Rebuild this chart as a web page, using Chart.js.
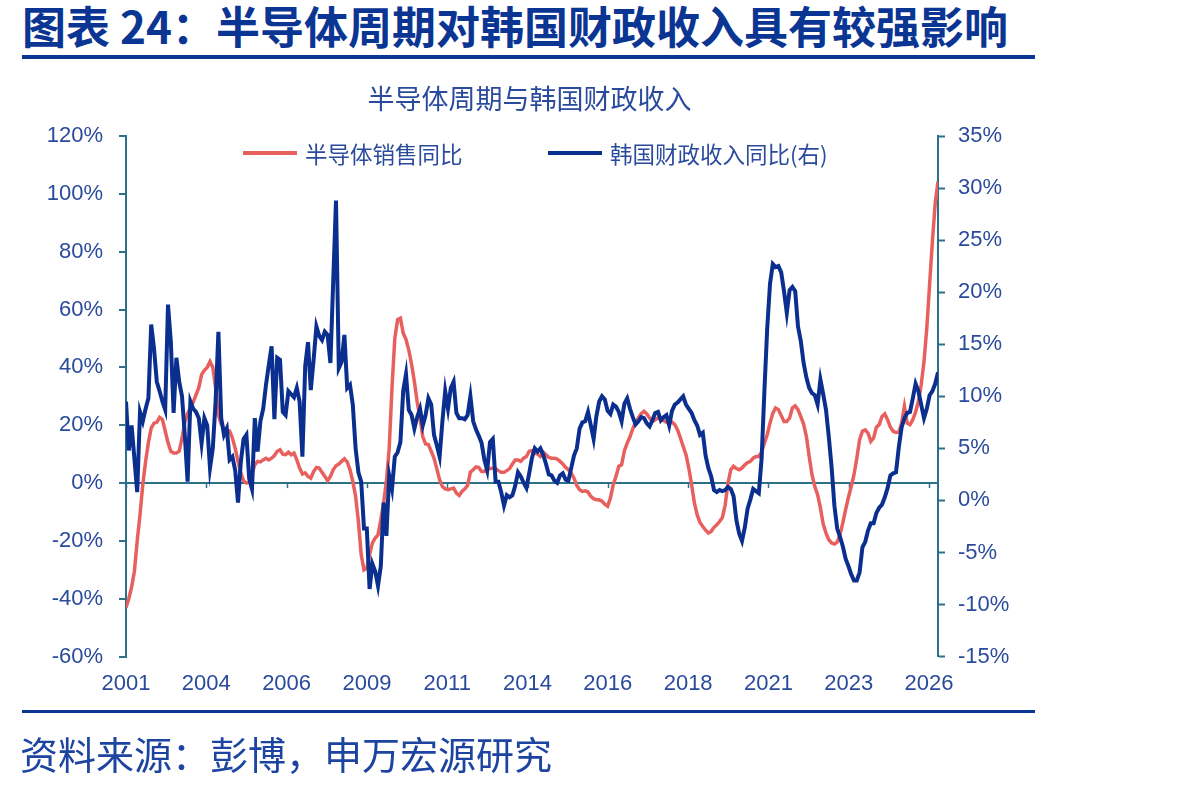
<!DOCTYPE html>
<html>
<head>
<meta charset="utf-8">
<script src="https://cdn.jsdelivr.net/npm/chart.js@4.4.1/dist/chart.umd.min.js"></script>
<style>
html,body{margin:0;padding:0;background:#ffffff;}
body{width:1190px;height:787px;position:relative;overflow:hidden;font-family:"Noto Sans CJK SC","Noto Sans",sans-serif;}
#hdr{position:absolute;left:22px;top:3px;font-size:44px;line-height:44px;font-weight:700;color:#0b3593;white-space:nowrap;}
.rule{position:absolute;left:22px;width:1013px;height:4px;background:#0b3593;}
#src{position:absolute;left:20px;top:734px;font-size:38px;line-height:38px;color:#1c44a0;white-space:nowrap;}
#chartBox{position:absolute;left:0;top:0;width:1190px;height:787px;}
#legend{position:absolute;left:0;top:0;width:1190px;height:0;}
.lg-item{position:absolute;top:141px;height:24px;display:flex;align-items:center;font-size:22.5px;line-height:24px;color:#2a4a9b;white-space:nowrap;}
.lg-sw{display:inline-block;width:54px;height:4px;margin-right:8px;}
</style>
</head>
<body>
<div id="hdr">图表 24：半导体周期对韩国财政收入具有较强影响</div>
<div class="rule" style="top:55px"></div>
<div id="chartBox"><canvas id="c" width="1190" height="787"></canvas></div>
<div id="legend"></div>
<div class="rule" style="top:710px;height:3px"></div>
<div id="src">资料来源：彭博，申万宏源研究</div>
<script>
// ---- data (monthly, from 2001-10) ----
const startYear = 2001, startMonth = 10, pointCount = 291;
const months = [];
for (let i = 0; i < pointCount; i++) {
  const m = startMonth - 1 + i;
  months.push((startYear + Math.floor(m / 12)) + '-' + String(m % 12 + 1).padStart(2, '0'));
}
const xTickLabels = ['2001','2004','2006','2009','2011','2014','2016','2018','2021','2023','2026'];
const xTickStep = 28.68; // months between labelled ticks

const seriesNames = ['半导体销售同比', '韩国财政收入同比(右)'];
const chartTitle = '半导体周期与韩国财政收入';

// 半导体销售同比 (%), left axis
const semiYoY = [
-43,-40,-36,-30.5,-20,-11,-0.5,7.5,14,19,
20.7,21,22.7,22,18,14,11,10.4,10.4,11,
15.5,21,24,26,28,30.5,33,37.5,39,40,
42,40,33,23.6,20.4,19,18,18,15.6,12,
7.5,3.5,0.8,0,0.3,3,6.3,7.5,7.3,8,
8.6,8,8.6,9.5,11,11.5,10,9.8,10.7,9.8,
10.4,8,5.2,3.1,3.5,2.3,1.7,4,5.4,5.2,
3.7,2.3,0.8,2.3,4.6,6,6.6,7.5,8.4,7.3,
4.6,0.6,-4.6,-13.3,-24.8,-30,-29.4,-24.8,-20.7,-19,
-17.9,-12.7,-6.9,0.6,12,32.9,50,56.5,57,51.9,
49.6,46,41,35,28,22.5,16,13.5,13.3,11,
8.6,5,1.2,-1.2,-2,-2.3,-2,-1.7,-3.5,-4.3,
-2.9,-2,-0.8,3.8,4.6,5.6,5.4,4,4,5.2,
5,5.2,5,4.3,3.7,3.7,4.3,5,6.6,8,
8,7.5,8.6,9.2,11,11.2,10.6,10,9.2,10.7,
9.8,8.9,8.6,8.6,8.3,7.5,6.6,5.4,4.6,3.5,
1.7,-0.8,-2.3,-2.9,-2.7,-3.1,-4.6,-5.4,-5.8,-5.8,
-6.3,-7.3,-8,-5.2,-0.6,2.3,5.8,6.3,11.2,13.8,
16,18.8,21,22.5,24,24.8,23.9,22.5,21.3,21.9,
22.5,22.1,21.6,21.1,20.7,21.1,20.2,18.4,15.6,12.7,
9.8,5.2,-0.6,-6.9,-11,-13.6,-15,-16.3,-17.3,-16.7,
-15.3,-14.4,-13.3,-11.9,-7.5,0,4.6,5.8,5,4.6,
5.2,6.3,7.1,7.5,8.6,9.2,9.2,10.7,13.8,16.7,
20.7,24.2,26,25.4,23.4,21.3,21.3,22.5,26,26.7,
25.4,23,20.4,16.1,9.2,2.9,-1.2,-4,-8.6,-14.2,
-17.3,-19.6,-20.7,-21.1,-20.4,-17.9,-13.8,-9.2,-5,-1.2,
2.9,8.6,15,17.9,18.4,17.3,14.4,15.6,19.3,20.2,
23,23.9,21.9,19.3,17.9,17.5,17.6,20.7,26.5,20.7,
20.2,21.9,24.6,28.2,34,42,53.6,68.6,83.6,96.8,
104.3
];

// 韩国财政收入同比 (%), right axis
const krRevenueYoY = [
9.5,4.8,7.2,4.0,0.8,8.5,7.6,8.8,9.8,16.9,
14.6,11.4,10.5,9.5,8.7,18.8,15.3,8.4,13.7,11.4,
10,6.3,1.8,9.5,8.8,8.5,7.9,5.5,7.9,7.2,
3.1,5,9.5,16.2,7.9,6.3,6.9,3.9,4.2,2.9,
-0.2,3.7,5.9,6.3,2.1,1.1,7.9,4.7,7.6,8.8,
11.1,13,14.8,7.8,13.7,13.5,8.5,8.2,10.5,10.2,
9.9,10.8,9.5,4.2,12.9,15.2,10.6,13.5,16.7,15.8,
15.4,16.2,15.9,13.2,21,28.8,12.7,13.3,15.9,10.8,
11.1,9.2,5,2.7,1.8,-2.7,-2.7,-8.5,-6.1,-6.8,
-8.2,-6.3,-0.2,-3.4,2.4,1.1,4.2,4.6,5.6,10.5,
12.1,8.7,8.2,6.9,8,8.8,7.2,8.2,9.8,9.2,
6.3,5.3,4.2,7.6,10.5,8.8,10.8,11.4,8.4,7.9,
7.9,7.8,8.2,10,7.6,6.8,6.2,5.5,3.9,2.9,
5.6,5.9,1.8,1.8,0.8,-0.5,0.5,0.3,0.5,1.4,
2.7,2.3,1.7,1.2,2.6,4.1,5,4.7,5,4.4,
3.5,2.5,2.4,1.9,1.7,2.4,2.6,2,1.9,3.1,
4.3,5,6.9,7.5,7.6,8.5,7.2,5.9,8.1,9.5,
10,9.7,8.6,8.3,9.2,9,8.5,7.6,9.3,9.8,
8.8,8,7.3,7.6,8,7.9,7.4,7.1,7.7,8.4,
8.5,7.7,8,8.2,7.2,8.6,9.2,9.4,9.7,10,
9.2,8.8,8.4,7.7,7.2,6.3,6.5,4.3,3.1,2.3,
1,0.8,1,0.9,1,1.3,1.1,0.4,-1.9,-3.2,
-3.9,-2.6,-0.8,0.1,1.1,0.9,0.7,4,10.5,16.5,
20.8,22.7,22.4,22.5,21.9,20.1,18,20.2,20.5,20.1,
16.7,15.3,13.2,11.8,10.8,10.3,10.1,9.2,11.6,10.2,
8.7,6.1,3.2,-0.5,-2.7,-3.5,-4.4,-5.6,-6.3,-7.1,
-7.7,-7.7,-6.9,-4.5,-4,-2.9,-2.2,-2.2,-1.2,-0.7,
-0.4,0.3,1.2,2.4,2.6,2.7,5.1,7,7.9,8.4,
8.5,9.8,11.2,10.5,9.2,7.9,8.8,10.1,10.5,11.2,
12.3
];

const leftTicks = {min: -60, max: 120, step: 20};
const rightTicks = {min: -15, max: 35, step: 5};

// ---- styling ----
const RED = '#e8605d';
const BLUE = '#0a2f8f';
const AXIS = '#2c7089';
const TXT = '#2a4a9b';
const tickFont = {family: '"Liberation Sans", Arial, sans-serif', size: 22};

const zeroTicks = {
  id: 'zeroTicks',
  beforeDatasetsDraw(chart) {
    const x = chart.scales.x, y = chart.scales.y;
    const y0 = y.getPixelForValue(0);
    const ctx = chart.ctx;
    ctx.save();
    ctx.strokeStyle = AXIS;
    ctx.lineWidth = 1.5;
    x.ticks.forEach(t => {
      const px = Math.round(x.getPixelForValue(t.value)) + 0.5;
      ctx.beginPath();
      ctx.moveTo(px, y0);
      ctx.lineTo(px, y0 + 5);
      ctx.stroke();
    });
    ctx.restore();
  }
};

const chart = new Chart(document.getElementById('c'), {
  type: 'line',
  data: {
    labels: months,
    datasets: [
      {
        label: seriesNames[0],
        data: semiYoY.map((v, i) => ({x: i, y: v})),
        borderColor: RED, backgroundColor: RED,
        borderWidth: 3.5, pointRadius: 0, tension: 0, yAxisID: 'y', order: 2
      },
      {
        label: seriesNames[1],
        data: krRevenueYoY.map((v, i) => ({x: i, y: v})),
        borderColor: BLUE, backgroundColor: BLUE,
        borderWidth: 4, pointRadius: 0, tension: 0, yAxisID: 'y1', order: 1
      }
    ]
  },
  options: {
    responsive: false,
    animation: false,
    devicePixelRatio: 1,
    layout: {padding: {top: 70, right: 150, bottom: 76, left: 19}},
    plugins: {
      legend: {display: false},
      tooltip: {enabled: false},
      title: {
        display: true, text: chartTitle, color: TXT,
        font: {family: '"Noto Sans CJK SC", sans-serif', size: 27, weight: 'normal'},
        padding: {top: 13, bottom: 20.6}
      }
    },
    scales: {
      x: {
        type: 'linear', min: 0, max: pointCount - 1,
        grid: {display: false, drawTicks: false},
        border: {display: false},
        afterBuildTicks(scale) {
          scale.ticks = xTickLabels.map((l, k) => ({value: k * xTickStep}));
        },
        ticks: {
          autoSkip: false, maxRotation: 0, padding: 14, color: TXT, font: tickFont,
          callback: (v, idx) => xTickLabels[idx]
        }
      },
      y: {
        position: 'left', min: leftTicks.min, max: leftTicks.max,
        afterFit(scale) { scale.width = 107; },
        ticks: {stepSize: leftTicks.step, padding: 16, color: TXT, font: tickFont,
                callback: v => v + '%'},
        grid: {
          drawOnChartArea: true,
          color: ctx => (ctx.tick && ctx.tick.value === 0) ? AXIS : 'rgba(0,0,0,0)',
          lineWidth: 2,
          tickColor: AXIS, tickLength: 7, tickWidth: 2
        },
        border: {display: true, color: AXIS, width: 2}
      },
      y1: {
        position: 'right', min: rightTicks.min, max: rightTicks.max,
        afterFit(scale) { scale.width = 102; },
        ticks: {stepSize: rightTicks.step, padding: 13, color: TXT, font: tickFont,
                callback: v => v + '%'},
        grid: {drawOnChartArea: false, tickColor: AXIS, tickLength: 7, tickWidth: 2},
        border: {display: true, color: AXIS, width: 2}
      }
    }
  },
  plugins: [zeroTicks]
});

// HTML legend built from the chart's datasets
const legendPos = [243, 548];
const lg = document.getElementById('legend');
chart.data.datasets.forEach((ds, i) => {
  const item = document.createElement('div');
  item.className = 'lg-item';
  item.style.left = legendPos[i] + 'px';
  const sw = document.createElement('span');
  sw.className = 'lg-sw';
  sw.style.background = ds.borderColor;
  item.appendChild(sw);
  item.appendChild(document.createTextNode(ds.label));
  lg.appendChild(item);
});
</script>
</body>
</html>
